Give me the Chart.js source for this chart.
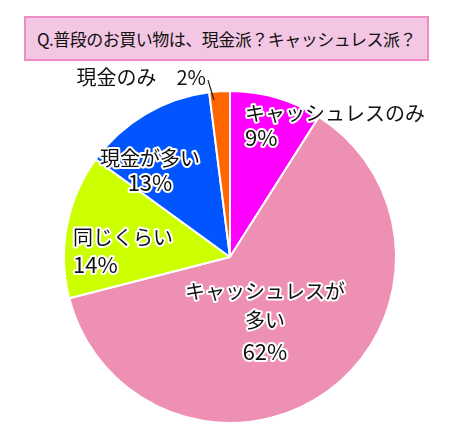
<!DOCTYPE html><html><head><meta charset="utf-8">
<script src="https://cdn.jsdelivr.net/npm/chart.js@4"></script>
<style>body{margin:0;background:#fff;width:452px;height:431px;overflow:hidden;position:relative;font-family:"Noto Sans CJK JP",sans-serif}
#t{position:absolute;left:24px;top:16px;width:401px;height:41px;background:#f3c6e3;border:2px solid #ee8cc6;font-size:17px;line-height:41px;text-align:center;color:#111;white-space:nowrap;letter-spacing:-0.5px}
canvas{position:absolute;left:0;top:0}</style></head><body>
<div id="t">Q.普段のお買い物は、現金派？キャッシュレス派？</div>
<canvas id="c" width="452" height="431"></canvas>
<script>
const categories=["キャッシュレスのみ","キャッシュレスが多い","同じくらい","現金が多い","現金のみ"];
const values=[9,62,14,13,2];
const colors=["#ff00ff","#ee8fb4","#ccff00","#0055ff","#ff6600"];
const labelLines=[["キャッシュレスのみ",values[0]+"%"],["キャッシュレスが","多い",values[1]+"%"],["同じくらい",values[2]+"%"],["現金が多い",values[3]+"%"],["現金のみ　"+values[4]+"%"]];
const place=[{x:15,y:[-144,-119],a:"left"},{x:35,y:[34,63,95],a:"center"},{x:-157,y:[-20,8],a:"left"},{x:-80,y:[-99,-74],a:"center"},{x:-24,y:[-180],a:"right"}];
const lbl={id:"lbl",afterDraw(ch){const c=ch.ctx,m=ch.getDatasetMeta(0).data[0];const cx=m.x,cy=m.y;c.save();
c.strokeStyle="#222";c.lineWidth=1.2;c.beginPath();c.moveTo(cx-22,cy-177);c.lineTo(cx-16,cy-157);c.stroke();
c.textBaseline="middle";c.lineJoin="round";
place.forEach((p,i)=>{c.textAlign=p.a;labelLines[i].forEach((s,j)=>{const x=cx+p.x,y=cy+p.y[j];c.font=(s.includes("%")&&i!==4?"22px":"20px")+" 'Noto Sans CJK JP'";if(i!==4){c.strokeStyle="#fff";c.lineWidth=4;c.strokeText(s,x,y);}c.fillStyle="#111";c.fillText(s,x,y);});});c.restore();}};
new Chart(document.getElementById("c"),{type:"pie",data:{labels:categories,datasets:[{data:values,backgroundColor:colors,borderColor:"#fff",borderWidth:2}]},
options:{responsive:false,animation:false,layout:{padding:{left:63,right:55,top:90,bottom:7}},plugins:{legend:{display:false},tooltip:{enabled:false}}},plugins:[lbl]});
</script></body></html>
